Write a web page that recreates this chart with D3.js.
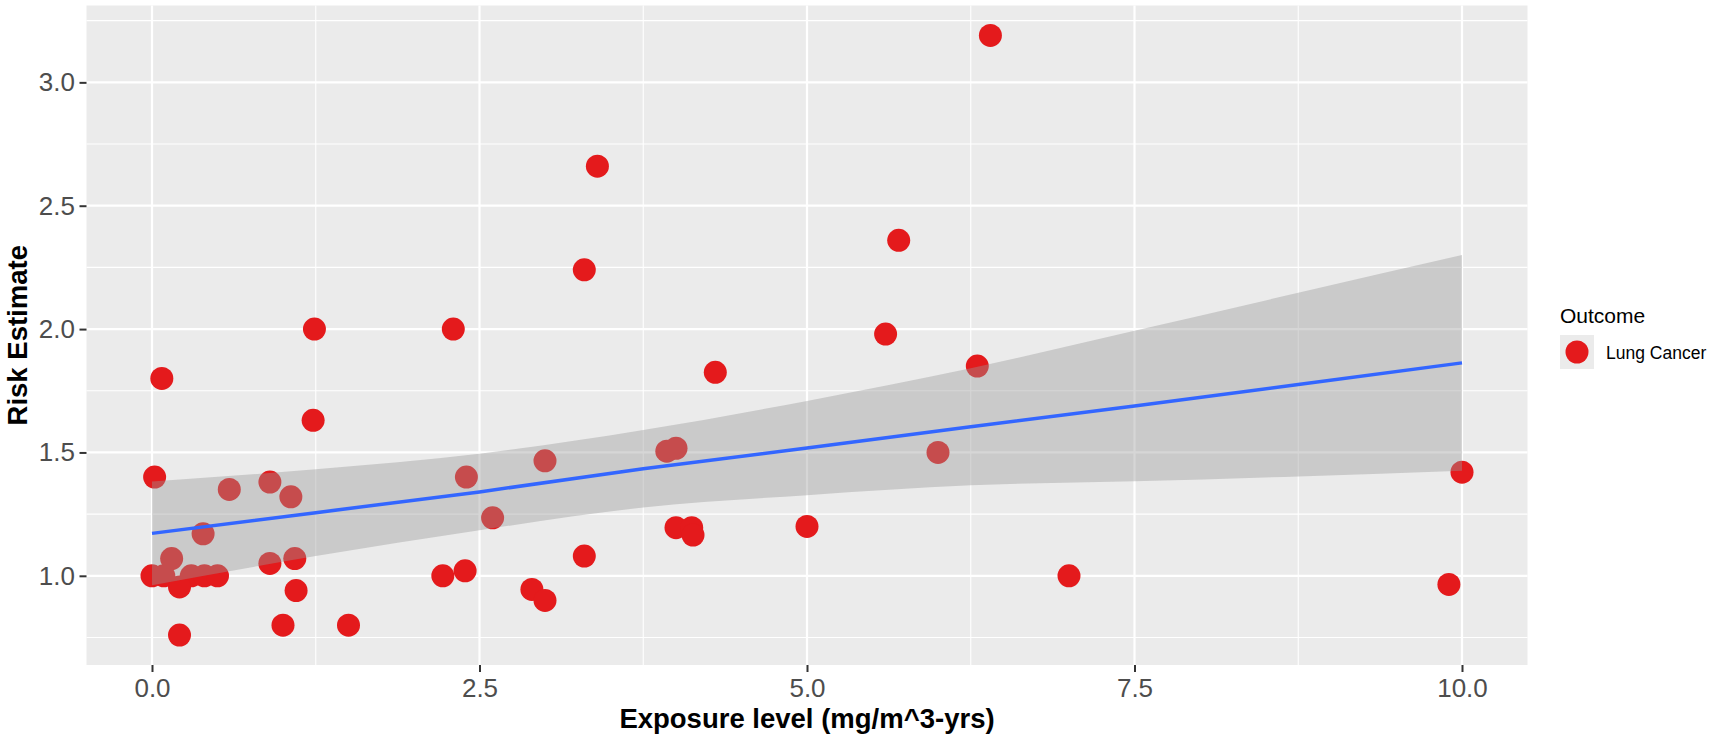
<!DOCTYPE html>
<html>
<head>
<meta charset="utf-8">
<script src="https://cdn.jsdelivr.net/npm/d3@7"></script>
<style>
  body { margin: 0; background: #fff; }
  text { font-family: "Liberation Sans", Arial, sans-serif; }
</style>
</head>
<body>
<script>
// exposure / risk estimate pairs
const exposure = [0, 0.09, 0.3, 0.4, 0.5, 0.21, 0.21, 0.02, 0.075, 0.15, 0.39, 0.59, 0.9, 1.06, 0.9, 1.09,
  1.1, 1.0, 1.23, 1.24, 1.5, 2.22, 2.39, 2.3, 2.4, 2.6, 2.9, 3.0, 3.0, 3.3, 3.3, 3.4, 3.93, 4.0, 4.0, 4.12,
  4.13, 4.3, 5.0, 5.6, 5.7, 6.0, 6.3, 6.4, 7.0, 9.9, 10.0];
const risk = [1.0, 1.0, 1.0, 1.0, 1.0, 0.955, 0.76, 1.40, 1.80, 1.07, 1.17, 1.35, 1.38, 1.32, 1.05, 1.07,
  0.94, 0.80, 1.63, 2.00, 0.80, 1.0, 1.02, 2.0, 1.40, 1.235, 0.945, 0.90, 1.466, 1.08, 2.24, 2.66, 1.505, 1.517, 1.195, 1.195,
  1.165, 1.825, 1.2, 1.98, 2.36, 1.50, 1.85, 3.19, 1.0, 0.965, 1.42];

// lm smooth + confidence band, read at a few x positions
const smoothX = [0, 1.25, 2.5, 3.75, 5, 6.25, 7.5, 8.75, 10];
const smoothFit = [1.172, 1.256, 1.340, 1.434, 1.518, 1.604, 1.688, 1.775, 1.863];
const smoothLower = [0.962, 1.080, 1.185, 1.277, 1.327, 1.367, 1.383, 1.403, 1.426];
const smoothUpper = [1.382, 1.432, 1.495, 1.591, 1.709, 1.841, 1.993, 2.147, 2.300];

const xTicks = [0, 2.5, 5, 7.5, 10];
const xMinor = [1.25, 3.75, 6.25, 8.75];
const yTicks = [1.0, 1.5, 2.0, 2.5, 3.0];
const yMinor = [0.75, 1.25, 1.75, 2.25, 2.75, 3.25];
const legendLabel = "Lung Cancer";

const W = 1713, H = 741;
const panel = { left: 86.5, right: 1527.5, top: 5.5, bottom: 665 };

const x = d3.scaleLinear().domain([-0.5, 10.5]).range([panel.left, panel.right]);
const y = d3.scaleLinear().domain([0.6385, 3.3115]).range([panel.bottom, panel.top]);

const svg = d3.select("body").append("svg")
    .attr("width", W)
    .attr("height", H);

svg.append("rect")
    .attr("x", panel.left)
    .attr("y", panel.top)
    .attr("width", panel.right - panel.left)
    .attr("height", panel.bottom - panel.top)
    .attr("fill", "#EBEBEB");

const grid = svg.append("g").attr("stroke", "#fff");

grid.selectAll(".xminor").data(xMinor).enter().append("line")
    .attr("x1", d => x(d)).attr("x2", d => x(d))
    .attr("y1", panel.top).attr("y2", panel.bottom)
    .attr("stroke-width", 1.1);
grid.selectAll(".yminor").data(yMinor).enter().append("line")
    .attr("y1", d => y(d)).attr("y2", d => y(d))
    .attr("x1", panel.left).attr("x2", panel.right)
    .attr("stroke-width", 1.1);
grid.selectAll(".xmajor").data(xTicks).enter().append("line")
    .attr("x1", d => x(d)).attr("x2", d => x(d))
    .attr("y1", panel.top).attr("y2", panel.bottom)
    .attr("stroke-width", 2.2);
grid.selectAll(".ymajor").data(yTicks).enter().append("line")
    .attr("y1", d => y(d)).attr("y2", d => y(d))
    .attr("x1", panel.left).attr("x2", panel.right)
    .attr("stroke-width", 2.2);

// points
const pts = exposure.map((d, i) => ({ x: d, y: risk[i] }));
svg.append("g")
  .selectAll("circle")
  .data(pts)
  .enter().append("circle")
    .attr("cx", d => x(d.x))
    .attr("cy", d => y(d.y))
    .attr("r", 11.5)
    .attr("fill", "#E41A1C");

// confidence band over the points, then the fit
const band = smoothX.map((d, i) => ({ x: d, lo: smoothLower[i], hi: smoothUpper[i], fit: smoothFit[i] }));

svg.append("path")
    .datum(band)
    .attr("fill", "#999999")
    .attr("fill-opacity", 0.4)
    .attr("d", d3.area()
      .curve(d3.curveMonotoneX)
      .x(d => x(d.x))
      .y0(d => y(d.lo))
      .y1(d => y(d.hi)));

svg.append("path")
    .datum(band)
    .attr("fill", "none")
    .attr("stroke", "#3366FF")
    .attr("stroke-width", 3.5)
    .attr("d", d3.line()
      .x(d => x(d.x))
      .y(d => y(d.fit)));

// axes
const xAxis = svg.append("g")
    .attr("transform", "translate(0," + panel.bottom + ")")
    .call(d3.axisBottom(x).tickValues(xTicks).tickFormat(d3.format(".1f")).tickSize(7).tickPadding(6.5));

const yAxis = svg.append("g")
    .attr("transform", "translate(" + panel.left + ",0)")
    .call(d3.axisLeft(y).tickValues(yTicks).tickFormat(d3.format(".1f")).tickSize(7).tickPadding(4.5));

[xAxis, yAxis].forEach(a => {
  a.select(".domain").remove();
  a.selectAll(".tick line").attr("stroke", "#333333").attr("stroke-width", 2);
  a.selectAll(".tick text")
      .attr("fill", "#4D4D4D")
      .attr("font-size", 26)
      .attr("font-family", "Liberation Sans, Arial, sans-serif");
});

svg.append("text")
    .attr("x", (panel.left + panel.right) / 2)
    .attr("y", 728)
    .attr("text-anchor", "middle")
    .attr("font-size", 27.5)
    .attr("font-weight", "bold")
    .text("Exposure level (mg/m^3-yrs)");

svg.append("text")
    .attr("transform", "translate(27," + (panel.top + panel.bottom) / 2 + ") rotate(-90)")
    .attr("text-anchor", "middle")
    .attr("font-size", 27.5)
    .attr("font-weight", "bold")
    .text("Risk Estimate");

// legend
const legend = svg.append("g").attr("transform", "translate(1560,0)");

legend.append("text")
    .attr("x", 0)
    .attr("y", 323)
    .attr("font-size", 21)
    .text("Outcome");

legend.append("rect")
    .attr("x", 0)
    .attr("y", 335)
    .attr("width", 34)
    .attr("height", 34)
    .attr("fill", "#EBEBEB");

legend.append("circle")
    .attr("cx", 17)
    .attr("cy", 352)
    .attr("r", 11.5)
    .attr("fill", "#E41A1C");

legend.append("text")
    .attr("x", 46)
    .attr("y", 359)
    .attr("font-size", 17.5)
    .text(legendLabel);
</script>
</body>
</html>
